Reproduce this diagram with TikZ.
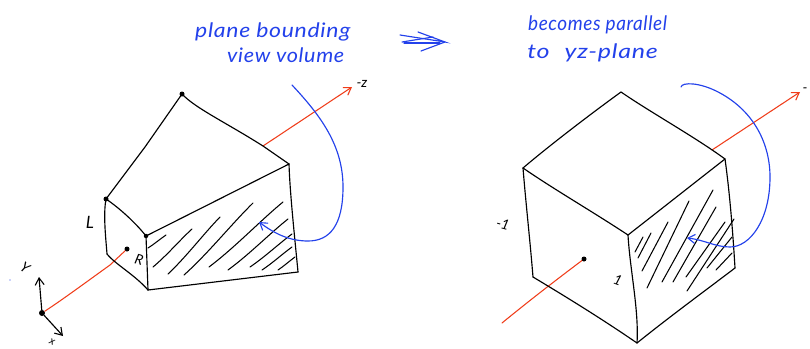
\documentclass[tikz,border=0pt]{standalone}
\usepackage{fontspec}
\setmainfont{Lato}
\newfontfamily\handfont[LetterSpace=3]{Lato}
\usetikzlibrary{arrows.meta}
\definecolor{inkblue}{RGB}{35,65,235}
\definecolor{inkred}{RGB}{240,60,25}
\tikzset{
  ink/.style={draw=black,line width=1.15pt,line cap=round,line join=round},
  hatchline/.style={draw=black,line width=1.05pt,line cap=round},
  redline/.style={draw=inkred,line width=1.05pt,line cap=round},
  blueline/.style={draw=inkblue,line width=1.15pt,line cap=round},
  opentip/.style={-{Straight Barb[length=7pt,width=9pt,line width=1.1pt]}},
  dotnode/.style={circle,fill=black,inner sep=0pt,minimum size=5pt},
  handblue/.style={text=inkblue,font=\handfont\itshape\fontsize{20}{22}\selectfont,inner sep=0pt,anchor=west},
  handblack/.style={text=black,font=\itshape\fontsize{14}{16}\selectfont,inner sep=0pt},
}
\begin{document}
\begin{tikzpicture}[x=1pt,y=-1pt]
\useasboundingbox (0,0) rectangle (810,348);
\fill[white] (0,0) rectangle (810,348);
% left frustum corners
\coordinate (apex) at (182,94);
\coordinate (L) at (106,199);
\coordinate (fr) at (146,236);
\coordinate (bot) at (148,290);
\coordinate (lb) at (107,254);
\coordinate (rt) at (289,164);
\coordinate (rb) at (298,272);
\coordinate (mid) at (263,146);
\node[dotnode] (d1) at (apex) {};
\node[dotnode] (d2) at (L) {};
\node[dotnode,minimum size=4.5pt] (d3) at (fr) {};
\node[dotnode] (d4) at (127,249) {};
\node[dotnode,minimum size=6pt] (o) at (42,313) {};
\coordinate (ytip) at (39,277);
\coordinate (xtip) at (63,336);
\coordinate (zend) at (352,87);
% red axis
\draw[redline] (o) .. controls (62,300) and (85,283) .. (110,265) -- (d4);
\draw[redline,opentip] (mid) -- (zend);
% frustum
\draw[ink] (L) -- (145,147) -- (apex);
\draw[ink] (apex) .. controls (195,108) and (225,122) .. (mid) -- (rt);
\draw[ink] (L) .. controls (118,207) and (135,222) .. (fr);
\draw[ink] (L) .. controls (103,215) and (106,240) .. (lb);
\draw[ink] (lb) .. controls (115,264) and (135,275) .. (bot);
\draw[ink] (fr) -- (bot);
\draw[ink] (fr) -- (rt);
\draw[ink] (rt) .. controls (290,195) and (295,240) .. (rb);
\draw[ink] (bot) -- (rb);
% hatching
\foreach \a/\b/\c/\d in {148/248/166/235, 153/267/192/229, 168/274/220/217, 184/275/253/203, 209/267/283/202, 228/270/288/219, 250/267/292/234, 262/270/292/247, 278/270/295/257}
  \draw[hatchline] (\a,\b) .. controls ({\a+(\c-\a)*0.35},{\b+(\d-\b)*0.3}) and ({\a+(\c-\a)*0.7},{\b+(\d-\b)*0.72}) .. (\c,\d);
% blue curve left
\coordinate (bs) at (292,85);
\coordinate (bt) at (259,222);
\draw[blueline,opentip] (bs) .. controls (320,115) and (343,145) .. (343,187) .. controls (343,225) and (330,241) .. (308,241) .. controls (290,241) and (275,234) .. (bt);
% axes
\draw[ink,opentip] (o) -- (ytip);
\draw[ink,opentip] (o) -- (xtip);
% labels left
\node[handblack] (lz) at (362,84) {-z};
\node[handblack,font=\itshape\fontsize{17}{18}\selectfont] (lL) at (90,222) {L};
\node[handblack,rotate=-15] (lR) at (139,260) {R};
\node[handblack,rotate=-35] (lY) at (25,268) {Y};
\node[handblack,rotate=-25,font=\itshape\fontsize{11}{12}\selectfont] (lx) at (52,342) {x};
\fill[inkblue] (10,280) circle (0.7pt);
% right cube
\coordinate (ct) at (621,92);
\coordinate (cl) at (523,168);
\coordinate (cc) at (628,235);
\coordinate (cr) at (725,159);
\coordinate (clb) at (533,277);
\coordinate (cb) at (637,343);
\coordinate (crb) at (735,268);
\coordinate (cm) at (712,150);
\node[dotnode] (d5) at (584,259) {};
\coordinate (cs) at (502,323);
\coordinate (cz) at (800,92);
\draw[redline] (cs) .. controls (530,300) and (560,277) .. (d5);
\draw[redline,opentip] (cm) -- (cz);
\draw[ink] (ct) .. controls (592,113) and (550,145) .. (cl);
\draw[ink] (ct) .. controls (650,112) and (695,137) .. (cr);
\draw[ink] (cl) .. controls (555,190) and (590,210) .. (cc);
\draw[ink] (cc) .. controls (660,210) and (693,184) .. (cr);
\draw[ink] (cl) .. controls (526,205) and (530,240) .. (clb);
\draw[ink] (clb) .. controls (568,298) and (602,319) .. (cb);
\draw[ink] (cc) .. controls (630,270) and (639,310) .. (cb);
\draw[ink] (cb) .. controls (668,318) and (702,293) .. (crb);
\draw[ink] (cr) .. controls (730,195) and (733,235) .. (crb);
\foreach \a/\b/\c/\d in {635/252/643/237, 638/258/651/233, 642/271/668/222, 647/288/689/201, 662/282/713/190, 673/282/716/207, 686/277/725/222, 687/291/734/219, 707/268/732/237, 716/270/732/253}
  \draw[hatchline] (\a,\b) -- (\c,\d);
\coordinate (bs2) at (681,87);
\coordinate (bt2) at (687,238);
\draw[blueline,opentip] (bs2) .. controls (682,82) and (700,82) .. (720,93) .. controls (755,112) and (770,145) .. (770,177) .. controls (770,220) and (750,247) .. (730,247) .. controls (715,247) and (705,240) .. (bt2);
\node[handblack,rotate=-15] (ln) at (503,224) {-1};
\node[handblack,rotate=-20] (lo) at (618,280) {1};
\node[handblack] (lm) at (805,90) {-};
% headings
\node[handblue,xscale=1.15] (t1) at (195,32) {plane bounding};
\node[handblue,xscale=1.08] (t2) at (227,55) {view volume};
\node[handblue,xscale=0.95] (t3) at (528,25) {becomes parallel};
\node[handblue,xscale=1.25] (t4) at (527,53) {to\hspace{12pt}yz-plane};
% middle arrow
\coordinate (a1) at (400,35);
\coordinate (a2) at (445,42);
\coordinate (a3) at (402,42);
\coordinate (a4) at (433,37);
\coordinate (a5) at (404,43);
\coordinate (a6) at (440,43);
\coordinate (a7) at (418,32);
\coordinate (a8) at (421,51);
\draw[blueline] (a1) -- (a2) -- (a7);
\draw[blueline] (a2) -- (a8);
\draw[blueline] (a3) -- (a4);
\draw[blueline] (a5) -- (a6);
\end{tikzpicture}
\end{document}
